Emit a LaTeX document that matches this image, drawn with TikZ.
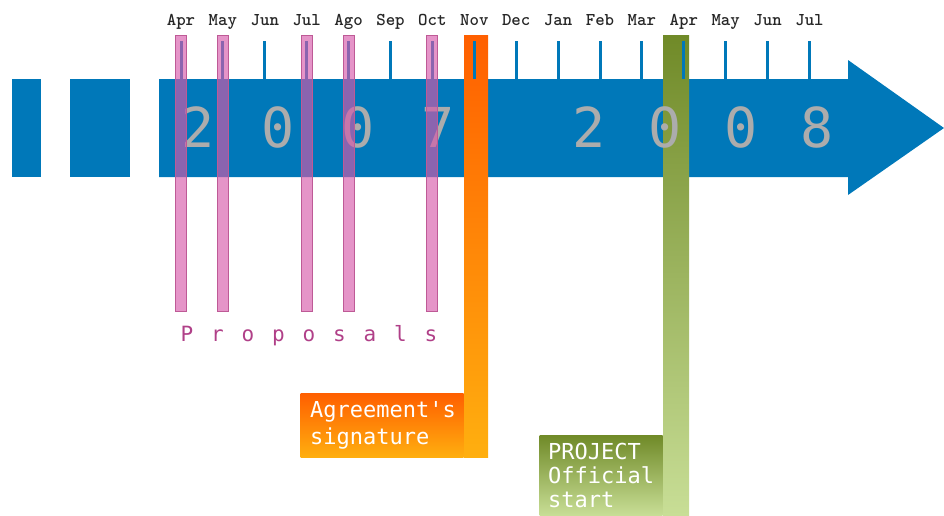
\documentclass[tikz,border=0pt]{standalone}
\usepackage{fontspec}
\newfontfamily\monofont{DejaVu Sans Mono}
\definecolor{bandblue}{RGB}{0,120,185}
\definecolor{yeargray}{RGB}{172,172,172}
\definecolor{proppink}{RGB}{215,90,170}
\definecolor{propedge}{RGB}{190,90,150}
\definecolor{proptext}{RGB}{176,64,136}
\definecolor{signtop}{RGB}{255,95,0}
\definecolor{signbot}{RGB}{255,175,15}
\definecolor{starttop}{RGB}{112,138,40}
\definecolor{startbot}{RGB}{200,222,150}
\tikzset{
  month/.style={font=\ttfamily\bfseries\fontsize{9}{10}\selectfont, anchor=base, text=black!85},
  tick/.style={draw=bandblue, line width=1.5pt},
  year/.style={font=\monofont\fontsize{27.5}{28}\selectfont, text=yeargray},
  proposal/.style={fill=proppink, fill opacity=0.65, draw=propedge, line width=0.5pt},
  labelbox/.style={text=white, align=left, anchor=north east}
}
\begin{document}
\begin{tikzpicture}[x=0.5pt, y=-0.5pt]
  \useasboundingbox (0,0) rectangle (944,515);
  % the band and its head
  \fill[bandblue] (12,79) rectangle (41,177);
  \fill[bandblue] (70,79) rectangle (130,177);
  \fill[bandblue] (159,79) -- (848,79) -- (848,60) -- (944,128) -- (848,195) -- (848,177) -- (159,177) -- cycle;
  % milestones
  \shade[top color=signtop, bottom color=signbot] (464,35) rectangle (488,457);
  \shade[top color=starttop, bottom color=startbot] (663,35) rectangle (689,515);
  \node[labelbox, font=\monofont\fontsize{11}{13.5}\selectfont, top color=signtop, bottom color=signbot, text width=72pt, inner xsep=4.75pt, minimum height=32pt] (sign) at (464,393) {Agreement's\\signature};
  \node[labelbox, font=\monofont\fontsize{11}{12}\selectfont, top color=starttop, bottom color=startbot, text width=53pt, inner xsep=4.25pt, minimum height=40pt] (start) at (663,435) {PROJECT\\Official\\start};
  % months
  \foreach \m [count=\i from 0] in {Apr,May,Jun,Jul,Ago,Sep,Oct,Nov,Dec,Jan,Feb,Mar,Apr,May,Jun,Jul}{
    \draw[tick] (181+41.9*\i,41) -- (181+41.9*\i,79);
    \node[month] (m\i) at (181+41.9*\i,25) {\m};
  }
  \node[year] (y2007) at (318,127) {\addfontfeatures{LetterSpace=85}2007};
  \node[year] (y2008) at (703,127) {\addfontfeatures{LetterSpace=78}2008};
  % proposals
  \foreach \i in {0,1,3,4,6}
    \filldraw[proposal] (175.5+41.9*\i,35) rectangle ++(11,276);
  \node[font=\monofont\fontsize{10.5}{12}\selectfont, text=proptext] (prop) at (309,336) {\addfontfeatures{LetterSpace=85}Proposals};
\end{tikzpicture}
\end{document}
